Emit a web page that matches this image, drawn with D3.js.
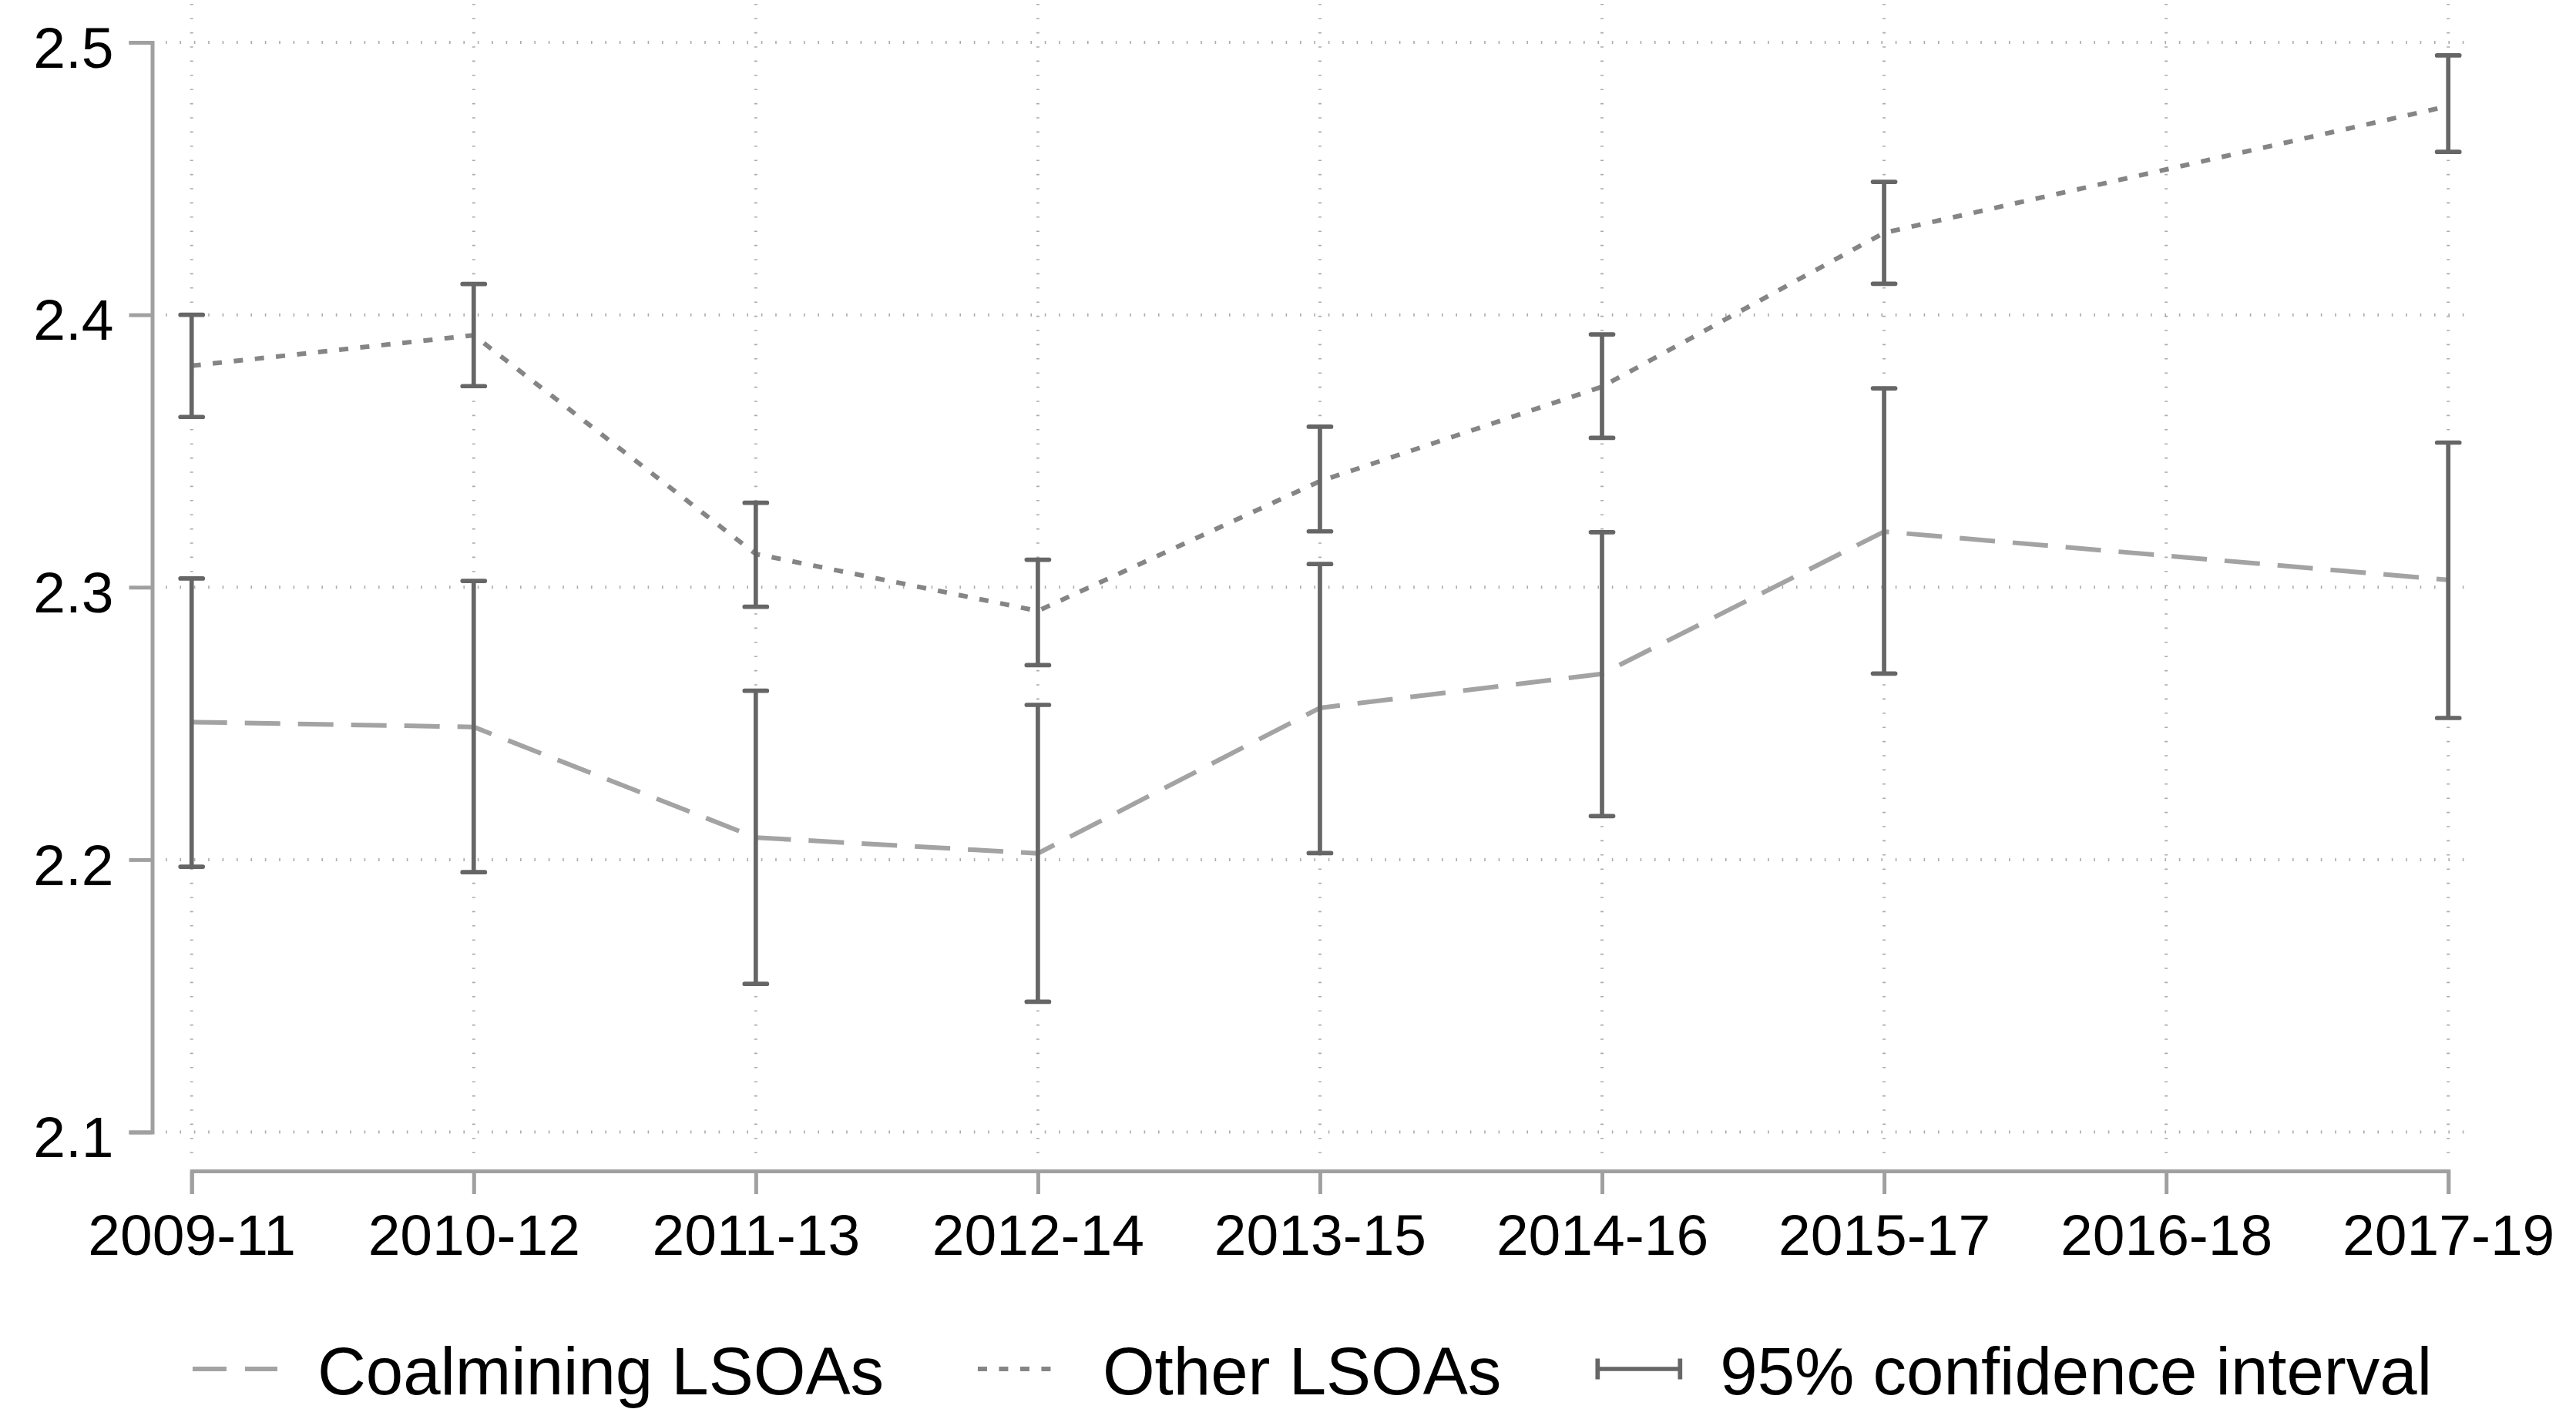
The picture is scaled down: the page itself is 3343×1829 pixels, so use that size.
<!DOCTYPE html>
<html>
<head>
<meta charset="utf-8">
<script src="https://cdn.jsdelivr.net/npm/d3@7"></script>
<style>
  body { margin: 0; background: #fff; }
  svg text { font-family: "Liberation Sans", Arial, Helvetica, sans-serif; fill: #000; }
</style>
</head>
<body>
<svg id="chart" width="3343" height="1829"></svg>
<script>
// data (2016-18 has no estimate)
const periods = ["2009-11", "2010-12", "2011-13", "2012-14", "2013-15", "2014-16", "2015-17", "2016-18", "2017-19"];
const coalMean = [2.2505, 2.2487, 2.2081, 2.2023, 2.2557, 2.2682, 2.3204, null, 2.3027];
const coalLow = [2.1974, 2.1954, 2.1544, 2.1478, 2.2024, 2.2160, 2.2683, null, 2.2520];
const coalHigh = [2.3032, 2.3023, 2.2620, 2.2568, 2.3085, 2.3202, 2.3730, null, 2.3531];
const otherMean = [2.3813, 2.3925, 2.3122, 2.2913, 2.3389, 2.3736, 2.4301, null, 2.4766];
const otherLow = [2.3625, 2.3738, 2.2928, 2.2714, 2.3205, 2.3548, 2.4114, null, 2.4598];
const otherHigh = [2.4000, 2.4113, 2.3310, 2.3101, 2.3589, 2.3928, 2.4488, null, 2.4952];
const yTicks = [2.1, 2.2, 2.3, 2.4, 2.5];
const legendLabels = ["Coalmining LSOAs", "Other LSOAs", "95% confidence interval"];

const axisColor = "#a0a0a0";
const gridColor = "#ababab";
const ciColor = "#666666";
const coalColor = "#a3a3a3";
const otherColor = "#858585";

const svg = d3.select("svg#chart");

// plot region
const plotLeft = 215, plotRight = 3211, plotTop = 5, plotBottom = 1502;
const yAxisX = 197.5, xAxisY = 1520;

const x = d3.scalePoint().domain(periods).range([248.7, 3177.2]);
const y = d3.scaleLinear().domain([2.1, 2.5]).range([1469.5, 55]);

// grid
const grid = svg.append("g");
grid.selectAll("line.hgrid")
  .data(yTicks)
  .join("line")
  .attr("class", "hgrid")
  .attr("x1", plotLeft).attr("x2", plotRight)
  .attr("y1", (d) => y(d)).attr("y2", (d) => y(d))
  .attr("stroke", gridColor).attr("stroke-width", 4)
  .attr("stroke-dasharray", "1.6 16.8");
grid.selectAll("line.vgrid")
  .data(periods)
  .join("line")
  .attr("class", "vgrid")
  .attr("x1", (d) => x(d)).attr("x2", (d) => x(d))
  .attr("y1", plotTop).attr("y2", plotBottom)
  .attr("stroke", gridColor).attr("stroke-width", 4)
  .attr("stroke-dasharray", "1.6 16.8");

// axes
const yAxis = svg.append("g")
  .attr("transform", `translate(${yAxisX},0)`)
  .call(d3.axisLeft(y).tickValues(yTicks).tickFormat(d3.format(".1f")).tickSize(30).tickPadding(20));
const xAxis = svg.append("g")
  .attr("transform", `translate(0,${xAxisY})`)
  .call(d3.axisBottom(x).tickSize(30).tickPadding(26));

[yAxis, xAxis].forEach((g) => {
  g.selectAll("path.domain, line").attr("stroke", axisColor).attr("stroke-width", 5);
  g.selectAll("text").attr("font-size", 75).attr("fill", "#000")
    .style("font-family", '"Liberation Sans", Arial, Helvetica, sans-serif');
});
yAxis.selectAll("text").attr("dy", "0.43em");

// series lines
const pts = (means) => periods
  .map((p, i) => ({ p: p, v: means[i] }))
  .filter((d) => d.v !== null);

const line = d3.line().x((d) => x(d.p)).y((d) => y(d.v));

svg.append("path")
  .datum(pts(coalMean))
  .attr("d", line)
  .attr("fill", "none")
  .attr("stroke", coalColor).attr("stroke-width", 6)
  .attr("stroke-linejoin", "round")
  .attr("stroke-dasharray", "46 23");

svg.append("path")
  .datum(pts(otherMean))
  .attr("d", line)
  .attr("fill", "none")
  .attr("stroke", otherColor).attr("stroke-width", 6)
  .attr("stroke-linejoin", "round")
  .attr("stroke-dasharray", "12 15.5");

// confidence intervals
const cis = [];
periods.forEach((p, i) => {
  if (coalLow[i] !== null) cis.push({ p: p, lo: coalLow[i], hi: coalHigh[i] });
  if (otherLow[i] !== null) cis.push({ p: p, lo: otherLow[i], hi: otherHigh[i] });
});

const ci = svg.append("g")
  .attr("stroke", ciColor).attr("stroke-width", 5.7).attr("stroke-linecap", "round");
ci.selectAll("line.bar")
  .data(cis)
  .join("line")
  .attr("class", "bar")
  .attr("x1", (d) => x(d.p)).attr("x2", (d) => x(d.p))
  .attr("y1", (d) => y(d.lo)).attr("y2", (d) => y(d.hi))
  .attr("stroke-linecap", "butt");
ci.selectAll("line.capHi")
  .data(cis)
  .join("line")
  .attr("class", "capHi")
  .attr("x1", (d) => x(d.p) - 14.5).attr("x2", (d) => x(d.p) + 14.5)
  .attr("y1", (d) => y(d.hi)).attr("y2", (d) => y(d.hi));
ci.selectAll("line.capLo")
  .data(cis)
  .join("line")
  .attr("class", "capLo")
  .attr("x1", (d) => x(d.p) - 14.5).attr("x2", (d) => x(d.p) + 14.5)
  .attr("y1", (d) => y(d.lo)).attr("y2", (d) => y(d.lo));

// legend
const legend = svg.append("g");
const legY = 1777, sampleW = 110, sampleGap = 52, itemGap = 122;
var cursor = 0;
legendLabels.forEach((label, i) => {
  const item = legend.append("g").attr("transform", `translate(${cursor},0)`);
  if (i === 0) {
    item.append("line").attr("x1", 0).attr("x2", sampleW).attr("y1", legY).attr("y2", legY)
      .attr("stroke", coalColor).attr("stroke-width", 6).attr("stroke-dasharray", "44 24");
  } else if (i === 1) {
    item.append("line").attr("x1", 0).attr("x2", sampleW).attr("y1", legY).attr("y2", legY)
      .attr("stroke", otherColor).attr("stroke-width", 6).attr("stroke-dasharray", "12 15.5");
  } else {
    const s = item.append("g").attr("stroke", ciColor).attr("stroke-width", 5.7);
    s.append("line").attr("x1", 3).attr("x2", sampleW).attr("y1", legY).attr("y2", legY);
    s.append("line").attr("x1", 3).attr("x2", 3).attr("y1", legY - 13.5).attr("y2", legY + 13.5);
    s.append("line").attr("x1", sampleW).attr("x2", sampleW).attr("y1", legY - 13.5).attr("y2", legY + 13.5);
  }
  const t = item.append("text")
    .attr("x", sampleW + sampleGap)
    .attr("y", 1810)
    .attr("font-size", 87)
    .text(label);
  cursor += sampleW + sampleGap + t.node().getComputedTextLength() + itemGap;
});
const legW = cursor - itemGap;
legend.attr("transform", `translate(${(plotLeft + plotRight) / 2 - 10 - legW / 2},0)`);
</script>
</body>
</html>
